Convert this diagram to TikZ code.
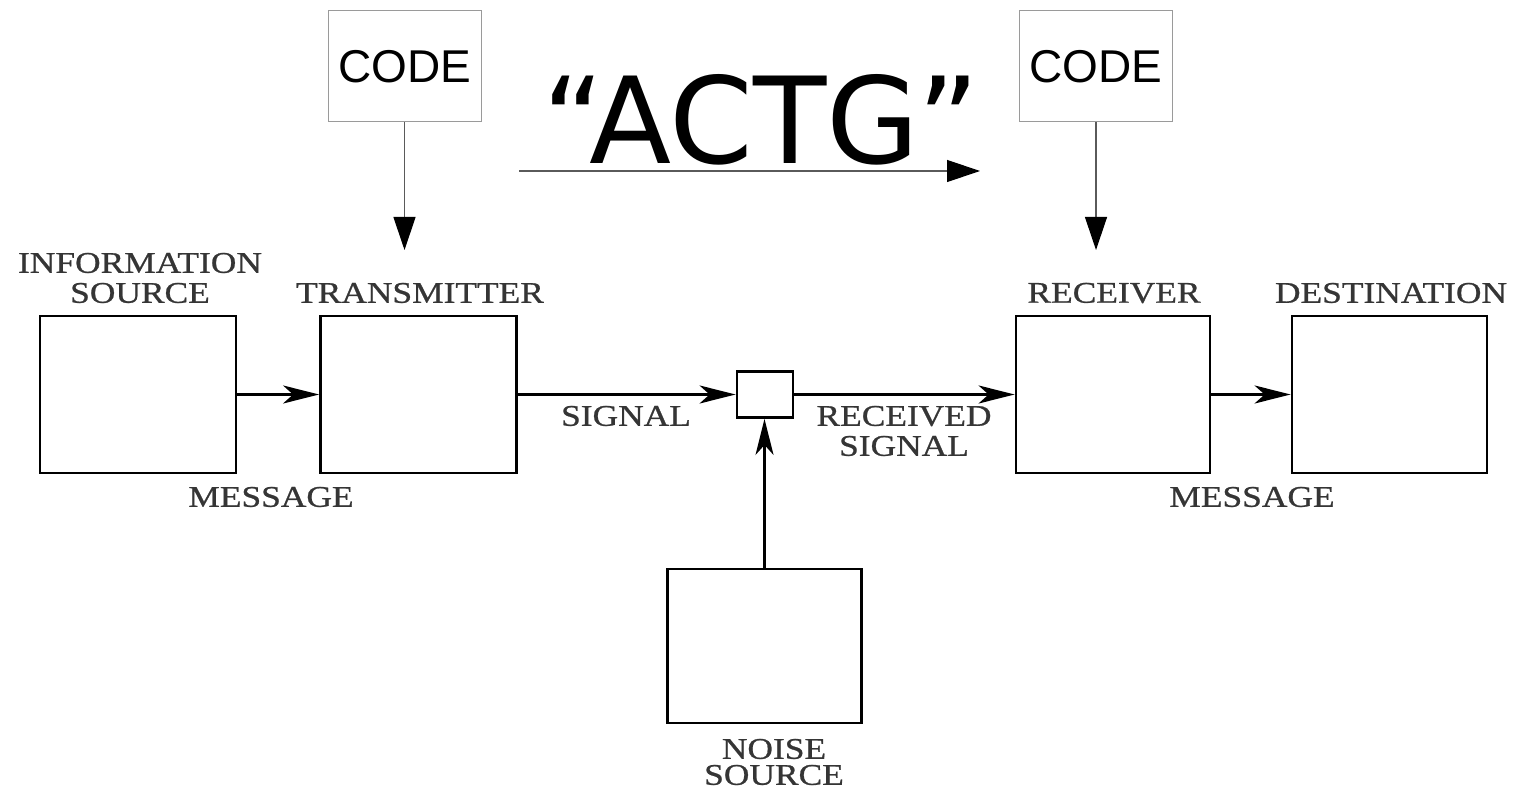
\documentclass[tikz,border=0pt]{standalone}
\usepackage{fontspec}
\usetikzlibrary{arrows.meta}
\newfontfamily\lblfont[FakeStretch=1.18,FakeBold=0.8]{Liberation Serif}
\newfontfamily\codefont{Liberation Sans}
\newfontfamily\seqfont{DejaVu Sans}
\definecolor{lbltext}{HTML}{353535}
\definecolor{codeframe}{HTML}{9A9A9A}
\definecolor{codeline}{HTML}{5A5A5A}

\begin{document}
\begin{tikzpicture}[x=0.5pt,y=-0.5pt,
  block/.style={draw=black, line width=1.4pt, fill=white, minimum width=98pt,
    minimum height=78.5pt, inner sep=0pt},
  mixer/.style={block, minimum width=28pt, minimum height=23pt},
  codebox/.style={draw=codeframe, line width=0.5pt, minimum width=76.5pt,
    minimum height=55.5pt, inner sep=0pt, font=\codefont\fontsize{23}{26}\selectfont},
  lbl/.style={text=lbltext, font=\lblfont\fontsize{15}{15}\selectfont,
    inner sep=0pt, align=center},
  flow/.style={line width=1.4pt, -{Stealth[length=18pt,width=9pt,inset=5pt]}},
  codeflow/.style={draw=codeline, line width=0.6pt,
    -{Triangle[length=16.5pt,width=11pt,color=black]}},
]
\useasboundingbox[fill=white] (0,0) rectangle (1518,790);

% main chain of blocks
\node[block] (src) at (138,394.5) {};
\node[block] (tx) at (418.5,394.5) {};
\node[mixer] (mix) at (765,394.5) {};
\node[block, minimum width=97pt] (rx) at (1113,394.5) {};
\node[block, minimum width=97.5pt] (dst) at (1389.5,394.5) {};
\node[block, minimum width=97pt, minimum height=77pt] (noise) at (764.5,646) {};

\draw[flow] (src.east) -- (tx.west);
\draw[flow] (tx.east) -- (mix.west);
\draw[flow] (mix.east) -- (rx.west);
\draw[flow] (rx.east) -- (dst.west);
\draw[flow] (noise.north) -- (noise.north |- mix.south);

% block labels
\node[lbl] (lsrc) at (140,278) {INFORMATION\\SOURCE};
\node[lbl] (ltx) at (420,293) {TRANSMITTER};
\node[lbl] (lrx) at (1114,293) {RECEIVER};
\node[lbl] (ldst) at (1391,293) {DESTINATION};
\node[lbl] (lmsg1) at (271,497) {MESSAGE};
\node[lbl] (lmsg2) at (1252,497) {MESSAGE};
\node[lbl] (lsig) at (626,416) {SIGNAL};
\node[lbl] (lrsig) at (904,431) {RECEIVED\\SIGNAL};
\node[lbl] (lnoise) at (774,762) {NOISE\\[-2pt]SOURCE};

% code boxes feeding transmitter and receiver
\node[codebox] (code1) at (404.5,66.5) {CODE};
\node[codebox] (code2) at (1096,66.5) {CODE};
\coordinate (tip1) at (404.5,250);
\coordinate (tip2) at (1096,250);
\draw[codeflow] (code1.south) -- (tip1);
\draw[codeflow] (code2.south) -- (tip2);

% transmitted sequence
\node[font=\seqfont\fontsize{60}{70}\selectfont, inner sep=0pt, anchor=base]
  (actg) at (761,164) {“ACTG”};
\coordinate (seqA) at (519,171);
\coordinate (seqB) at (980,171);
\draw[codeflow] (seqA) -- (seqB);
\end{tikzpicture}
\end{document}
